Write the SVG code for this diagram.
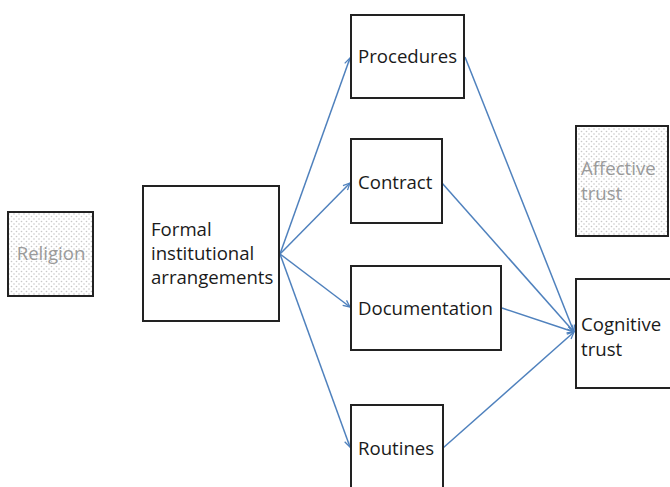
<svg xmlns="http://www.w3.org/2000/svg" width="670" height="487" viewBox="0 0 670 487">
<defs>
<pattern id="dots" width="5" height="5" patternUnits="userSpaceOnUse">
<rect width="5" height="5" fill="#ffffff"/>
<circle cx="1.5" cy="1.5" r="0.8" fill="#c8c8c8"/>
<circle cx="4" cy="4" r="0.8" fill="#c8c8c8"/>
</pattern>
<marker id="arr" viewBox="0 0 10 10" refX="9.5" refY="5" markerWidth="8" markerHeight="8" markerUnits="userSpaceOnUse" orient="auto">
<path d="M1,1 L9.5,5 L1,9" fill="none" stroke="#4f81bd" stroke-width="1.6"/>
</marker>
<style>
.box{fill:#ffffff;stroke:#222222;stroke-width:2}
.dot{fill:url(#dots);stroke:#222222;stroke-width:2}
.t{font-family:"Open Sans","Liberation Sans",sans-serif;font-size:18.6px;fill:#1a1a1a}
.g{font-family:"Open Sans","Liberation Sans",sans-serif;font-size:18.6px;fill:#9a9a9a}
.c{fill:none;stroke:#4f81bd;stroke-width:1.5;marker-end:url(#arr)}
</style>
</defs>
<rect width="670" height="487" fill="#ffffff"/>
<g id="connectors">
<line class="c" x1="280" y1="254" x2="350" y2="58"/>
<line class="c" x1="280" y1="254" x2="350" y2="183"/>
<line class="c" x1="280" y1="254" x2="350" y2="307"/>
<line class="c" x1="280" y1="254" x2="350" y2="447"/>
<line class="c" x1="465" y1="57" x2="574" y2="332"/>
<line class="c" x1="442" y1="183" x2="574" y2="332"/>
<line class="c" x1="502" y1="308" x2="574" y2="332"/>
<line class="c" x1="443" y1="448" x2="574" y2="332"/>
</g>
<g id="religion">
<rect class="dot" x="8" y="212" width="85" height="84"/>
<text class="g" x="51" y="260" text-anchor="middle">Religion</text>
</g>
<g id="formal">
<rect class="box" x="143" y="186" width="136" height="135"/>
<text class="t" x="151" y="236">Formal</text>
<text class="t" x="151" y="260">institutional</text>
<text class="t" x="151" y="284">arrangements</text>
</g>
<g id="procedures">
<rect class="box" x="351" y="15" width="113" height="83"/>
<text class="t" x="358" y="63">Procedures</text>
</g>
<g id="contract">
<rect class="box" x="351" y="139" width="91" height="84"/>
<text class="t" x="358" y="189">Contract</text>
</g>
<g id="documentation">
<rect class="box" x="351" y="266" width="150" height="84"/>
<text class="t" x="358" y="315">Documentation</text>
</g>
<g id="routines">
<rect class="box" x="351" y="405" width="92" height="90"/>
<text class="t" x="358" y="455">Routines</text>
</g>
<g id="affective">
<rect class="dot" x="576" y="126" width="92" height="110"/>
<text class="g" x="581" y="175">Affective</text>
<text class="g" x="581" y="200">trust</text>
</g>
<g id="cognitive">
<rect class="box" x="576" y="279" width="100" height="109"/>
<text class="t" x="581" y="331">Cognitive</text>
<text class="t" x="581" y="356">trust</text>
</g>
</svg>
